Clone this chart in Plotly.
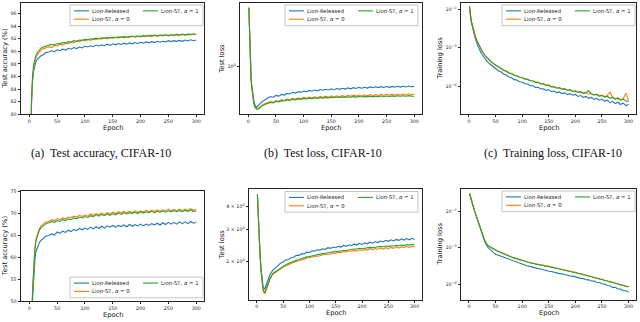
import plotly.graph_objects as go

EPOCHS = [1, 2, 3, 4, 5, 6, 8, 10, 12, 15, 18, 21, 25, 30] + list(range(35, 305, 5))

SERIES = ["Lion-Released", "Lion-ST, <i>α</i> = 0", "Lion-ST, <i>α</i> = 1"]
CAPTIONS = ["(a)  Test accuracy, CIFAR-10", "(b)  Test loss, CIFAR-10", "(c)  Training loss, CIFAR-10"]
X_TICKS = [0, 50, 100, 150, 200, 250, 300]
ACC10_TICKS = [80, 82, 84, 86, 88, 90, 92, 94, 96]
ACC100_TICKS = [50, 55, 60, 65, 70, 75]
LOSS10_TICKS = [1]
LOSS10_TEXT = ["10<sup>0</sup>"]
TRAIN_TICKS = [1e-2, 1e-3, 1e-4]
TRAIN_TEXT = ["10<sup>−2</sup>", "10<sup>−3</sup>", "10<sup>−4</sup>"]
LOSS100_TICKS = [2, 3, 4]
LOSS100_TEXT = ["2 × 10<sup>0</sup>", "3 × 10<sup>0</sup>", "4 × 10<sup>0</sup>"]

# (a) test accuracy, CIFAR-10
acc10_released = [45, 68, 77.5, 81.8, 84.0, 85.5, 87.0, 87.9, 88.4, 88.8, 89.1, 89.3, 89.5, 89.8,
                  89.9, 90.1, 89.95, 90.25, 90.1, 90.35, 90.2, 90.5, 90.35, 90.6, 90.45, 90.7, 90.55, 90.85,
                  90.7, 90.9, 90.75, 91.0, 90.85, 91.05, 90.9, 91.15, 90.95, 91.2, 91.05, 91.25, 91.1, 91.3,
                  91.15, 91.35, 91.2, 91.4, 91.25, 91.45, 91.3, 91.5, 91.35, 91.55, 91.4, 91.6, 91.45, 91.6,
                  91.5, 91.7, 91.55, 91.7, 91.6, 91.75, 91.6, 91.8, 91.65, 91.85, 91.7, 91.8]
acc10_st0 = [45, 68, 78, 82.3, 84.6, 86.0, 87.6, 88.5, 89.0, 89.5, 89.9, 90.2, 90.4, 90.6,
             90.75, 90.6, 90.95, 90.85, 91.15, 91.0, 91.3, 91.2, 91.5, 91.35, 91.65, 91.5, 91.8, 91.65,
             91.9, 91.75, 92.0, 91.85, 92.05, 91.95, 92.15, 92.0, 92.2, 92.05, 92.25, 92.1, 92.3, 92.15,
             92.35, 92.2, 92.4, 92.25, 92.4, 92.3, 92.45, 92.35, 92.5, 92.35, 92.55, 92.4, 92.55, 92.45,
             92.6, 92.45, 92.6, 92.5, 92.65, 92.5, 92.7, 92.55, 92.7, 92.6, 92.75, 92.65]
acc10_st1 = [46, 69, 78.5, 82.8, 85.0, 86.4, 88.0, 88.9, 89.4, 89.9, 90.3, 90.5, 90.7, 90.9,
             91.0, 91.1, 91.05, 91.25, 91.2, 91.4, 91.35, 91.55, 91.5, 91.7, 91.6, 91.8, 91.75, 91.9,
             91.85, 92.0, 91.95, 92.1, 92.0, 92.15, 92.1, 92.2, 92.15, 92.25, 92.2, 92.3, 92.25, 92.35,
             92.3, 92.4, 92.35, 92.4, 92.45, 92.4, 92.5, 92.45, 92.55, 92.5, 92.6, 92.5, 92.6, 92.55,
             92.65, 92.55, 92.65, 92.6, 92.7, 92.6, 92.75, 92.65, 92.75, 92.7, 92.8, 92.7]

# (b) test loss, CIFAR-10
loss10_released = [3.7, 2.2, 1.4, 1.0, 0.8, 0.68, 0.54, 0.47, 0.43, 0.405, 0.42, 0.44, 0.46, 0.48,
                   0.500, 0.515, 0.508, 0.528, 0.520, 0.540, 0.532, 0.552, 0.545, 0.565, 0.556, 0.574, 0.565, 0.582,
                   0.572, 0.590, 0.580, 0.596, 0.585, 0.602, 0.592, 0.606, 0.596, 0.612, 0.600, 0.615, 0.605, 0.620,
                   0.608, 0.624, 0.612, 0.628, 0.616, 0.632, 0.620, 0.634, 0.622, 0.638, 0.626, 0.640, 0.628, 0.642,
                   0.630, 0.644, 0.632, 0.645, 0.634, 0.648, 0.636, 0.648, 0.638, 0.650, 0.640, 0.646]
loss10_st0 = [3.7, 2.1, 1.35, 0.97, 0.77, 0.65, 0.51, 0.445, 0.41, 0.39, 0.395, 0.41, 0.425, 0.44,
              0.448, 0.460, 0.454, 0.472, 0.464, 0.480, 0.472, 0.488, 0.480, 0.494, 0.485, 0.500, 0.490, 0.505,
              0.495, 0.509, 0.499, 0.513, 0.502, 0.516, 0.505, 0.519, 0.508, 0.522, 0.510, 0.524, 0.513, 0.527,
              0.515, 0.529, 0.518, 0.531, 0.520, 0.533, 0.521, 0.535, 0.523, 0.537, 0.525, 0.539, 0.527, 0.540,
              0.528, 0.542, 0.530, 0.543, 0.531, 0.545, 0.533, 0.546, 0.534, 0.547, 0.536, 0.544]
loss10_st1 = [3.75, 2.1, 1.34, 0.96, 0.76, 0.64, 0.505, 0.44, 0.405, 0.388, 0.39, 0.403, 0.418, 0.432,
              0.442, 0.452, 0.448, 0.463, 0.458, 0.470, 0.466, 0.478, 0.472, 0.484, 0.479, 0.489, 0.484, 0.494,
              0.488, 0.497, 0.492, 0.500, 0.495, 0.503, 0.497, 0.505, 0.500, 0.507, 0.502, 0.509, 0.504, 0.511,
              0.506, 0.513, 0.507, 0.514, 0.509, 0.516, 0.510, 0.517, 0.511, 0.519, 0.512, 0.520, 0.514, 0.521,
              0.515, 0.522, 0.516, 0.523, 0.517, 0.524, 0.518, 0.525, 0.519, 0.526, 0.520, 0.518]

# (c) training loss, CIFAR-10
train10_released = [0.0115, 0.0078, 0.0060, 0.0049, 0.0042, 0.0036, 0.0027, 0.0021, 0.0017, 0.00128, 0.00100, 0.00082, 0.00065, 0.00051,
                    4.3e-4, 3.75e-4, 3.25e-4, 2.95e-4, 2.55e-4, 2.4e-4, 2.1e-4, 1.98e-4, 1.76e-4, 1.68e-4, 1.5e-4, 1.46e-4, 1.32e-4, 1.3e-4,
                    1.17e-4, 1.15e-4, 1.04e-4, 1.04e-4, 9.4e-5, 9.5e-5, 8.6e-5, 8.7e-5, 7.9e-5, 8.2e-5, 7.4e-5, 7.6e-5, 6.9e-5, 7.2e-5,
                    6.5e-5, 6.8e-5, 6.1e-5, 6.5e-5, 5.9e-5, 6.2e-5, 5.5e-5, 5.8e-5, 5.2e-5, 5.5e-5, 4.9e-5, 5.2e-5, 4.6e-5, 4.9e-5,
                    4.4e-5, 4.7e-5, 4.1e-5, 4.4e-5, 3.8e-5, 4.1e-5, 3.6e-5, 3.9e-5, 3.4e-5, 3.7e-5, 3.2e-5, 3.4e-5]
train10_st0 = [0.0118, 0.0081, 0.0063, 0.0052, 0.0045, 0.0039, 0.0029, 0.0023, 0.0019, 0.00148, 0.00119, 0.00099, 0.00079, 0.00063,
               5.2e-4, 4.55e-4, 3.95e-4, 3.55e-4, 3.15e-4, 2.9e-4, 2.6e-4, 2.45e-4, 2.2e-4, 2.12e-4, 1.93e-4, 1.86e-4, 1.7e-4, 1.68e-4,
               1.54e-4, 1.55e-4, 1.42e-4, 1.4e-4, 1.28e-4, 1.29e-4, 1.17e-4, 1.18e-4, 1.08e-4, 1.1e-4, 9.8e-5, 1.0e-4, 9.1e-5, 9.4e-5,
               8.5e-5, 8.8e-5, 8.0e-5, 8.3e-5, 7.5e-5, 7.8e-5, 7.1e-5, 7.4e-5, 6.7e-5, 7.0e-5, 6.3e-5, 6.6e-5, 6.0e-5, 6.3e-5,
               5.7e-5, 6.0e-5, 5.4e-5, 5.9e-5, 7.2e-5, 5.3e-5, 4.8e-5, 5.1e-5, 4.5e-5, 4.8e-5, 6.8e-5, 4.2e-5]
train10_st1 = [0.0120, 0.0082, 0.0064, 0.0053, 0.0046, 0.0040, 0.0030, 0.0024, 0.0020, 0.00152, 0.00122, 0.00101, 0.00081, 0.00064,
               5.3e-4, 4.6e-4, 4.0e-4, 3.6e-4, 3.2e-4, 2.95e-4, 2.65e-4, 2.5e-4, 2.25e-4, 2.15e-4, 1.95e-4, 1.88e-4, 1.72e-4, 1.7e-4,
               1.55e-4, 1.52e-4, 1.4e-4, 1.38e-4, 1.27e-4, 1.26e-4, 1.16e-4, 1.15e-4, 1.06e-4, 1.06e-4, 9.7e-5, 9.8e-5, 9.0e-5, 9.2e-5,
               8.4e-5, 8.6e-5, 7.9e-5, 8.1e-5, 7.4e-5, 7.6e-5, 7.0e-5, 7.2e-5, 6.6e-5, 6.9e-5, 7.8e-5, 6.4e-5, 6.0e-5, 6.2e-5,
               5.6e-5, 5.8e-5, 5.3e-5, 5.5e-5, 5.0e-5, 5.2e-5, 4.7e-5, 4.9e-5, 4.4e-5, 4.7e-5, 4.2e-5, 4.1e-5]

# (d) test accuracy, CIFAR-100
acc100_released = [10, 22, 33, 41, 47, 51, 56.5, 59.5, 61.3, 62.6, 63.3, 63.8, 64.3, 64.8,
                   64.9, 65.3, 65.0, 65.7, 65.4, 65.9, 65.6, 66.1, 65.8, 66.3, 66.0, 66.5, 66.2, 66.6,
                   66.3, 66.8, 66.4, 66.9, 66.5, 67.0, 66.6, 67.1, 66.8, 67.2, 66.8, 67.2, 66.9, 67.3,
                   66.9, 67.4, 67.0, 67.4, 67.1, 67.5, 67.1, 67.5, 67.2, 67.6, 67.3, 67.7, 67.3, 67.8,
                   67.4, 67.9, 67.5, 67.9, 67.5, 68.0, 67.6, 68.0, 67.6, 68.1, 67.7, 67.9]
acc100_st0 = [10, 23, 35, 43, 49, 53, 59, 62.2, 64.2, 65.6, 66.5, 67.1, 67.6, 68.0,
              68.1, 68.5, 68.3, 68.7, 68.5, 68.9, 68.7, 69.1, 68.9, 69.3, 69.1, 69.5, 69.2, 69.6,
              69.3, 69.8, 69.5, 69.9, 69.6, 70.0, 69.7, 70.1, 69.8, 70.2, 69.9, 70.3, 70.0, 70.4,
              70.1, 70.4, 70.1, 70.5, 70.2, 70.5, 70.3, 70.6, 70.3, 70.6, 70.4, 70.7, 70.4, 70.7,
              70.5, 70.9, 70.5, 70.8, 70.5, 70.9, 70.6, 70.9, 70.6, 71.0, 70.7, 70.8]
acc100_st1 = [10, 23, 35, 43, 48.8, 52.8, 58.7, 61.8, 63.8, 65.2, 66.1, 66.7, 67.2, 67.6,
              67.8, 68.1, 67.9, 68.3, 68.1, 68.5, 68.3, 68.7, 68.5, 68.9, 68.7, 69.1, 68.9, 69.2,
              69.0, 69.4, 69.2, 69.6, 69.3, 69.7, 69.4, 69.8, 69.5, 69.9, 69.6, 70.0, 69.7, 70.1,
              69.8, 70.1, 69.9, 70.2, 69.9, 70.3, 70.0, 70.3, 70.1, 70.4, 70.1, 70.4, 70.2, 70.5,
              70.2, 70.5, 70.3, 70.6, 70.3, 70.6, 70.3, 70.6, 70.4, 70.7, 70.4, 70.5]

# (e) test loss, CIFAR-100
loss100_released = [4.65, 3.9, 3.3, 2.85, 2.5, 2.2, 1.82, 1.58, 1.44, 1.42, 1.50, 1.59, 1.70, 1.79,
                    1.85, 1.89, 1.96, 1.99, 2.04, 2.05, 2.10, 2.11, 2.16, 2.16, 2.21, 2.20, 2.25, 2.24,
                    2.29, 2.28, 2.32, 2.31, 2.35, 2.33, 2.38, 2.36, 2.40, 2.38, 2.42, 2.40, 2.45, 2.42,
                    2.47, 2.44, 2.49, 2.46, 2.51, 2.48, 2.53, 2.50, 2.55, 2.52, 2.57, 2.54, 2.59, 2.56,
                    2.61, 2.58, 2.63, 2.59, 2.64, 2.61, 2.66, 2.62, 2.67, 2.63, 2.68, 2.64]
loss100_st0 = [4.65, 3.85, 3.25, 2.8, 2.45, 2.15, 1.76, 1.50, 1.37, 1.33, 1.39, 1.48, 1.60, 1.70,
               1.74, 1.79, 1.82, 1.87, 1.90, 1.93, 1.96, 1.98, 2.01, 2.02, 2.05, 2.06, 2.09, 2.10,
               2.12, 2.13, 2.15, 2.15, 2.18, 2.18, 2.20, 2.20, 2.23, 2.22, 2.25, 2.24, 2.27, 2.26,
               2.29, 2.27, 2.30, 2.28, 2.32, 2.30, 2.33, 2.31, 2.35, 2.32, 2.36, 2.33, 2.37, 2.34,
               2.38, 2.35, 2.39, 2.36, 2.40, 2.37, 2.41, 2.38, 2.42, 2.38, 2.42, 2.40]
loss100_st1 = [4.65, 3.87, 3.27, 2.82, 2.47, 2.17, 1.78, 1.52, 1.39, 1.36, 1.42, 1.51, 1.62, 1.72,
               1.76, 1.80, 1.84, 1.89, 1.92, 1.95, 1.98, 2.00, 2.03, 2.05, 2.08, 2.09, 2.12, 2.13,
               2.15, 2.16, 2.18, 2.19, 2.21, 2.22, 2.24, 2.24, 2.26, 2.26, 2.28, 2.28, 2.30, 2.30,
               2.32, 2.32, 2.34, 2.34, 2.36, 2.35, 2.37, 2.37, 2.39, 2.38, 2.40, 2.40, 2.42, 2.41,
               2.43, 2.42, 2.44, 2.43, 2.45, 2.44, 2.46, 2.45, 2.47, 2.46, 2.48, 2.47]

# (f) training loss, CIFAR-100
train100_released = [0.031, 0.027, 0.024, 0.021, 0.0185, 0.0165, 0.0135, 0.0108, 0.0088, 0.0065, 0.0048, 0.0035, 0.0023, 0.00145,
                     1.05e-3, 8.7e-4, 7.6e-4, 6.7e-4, 6.3e-4, 5.9e-4, 5.5e-4, 5.15e-4, 4.8e-4, 4.5e-4, 4.2e-4, 3.95e-4, 3.7e-4, 3.5e-4,
                     3.38e-4, 3.18e-4, 3.1e-4, 2.92e-4, 2.85e-4, 2.68e-4, 2.62e-4, 2.46e-4, 2.41e-4, 2.28e-4, 2.25e-4, 2.12e-4, 2.08e-4, 1.96e-4,
                     1.93e-4, 1.82e-4, 1.8e-4, 1.69e-4, 1.67e-4, 1.58e-4, 1.55e-4, 1.45e-4, 1.43e-4, 1.33e-4, 1.32e-4, 1.23e-4, 1.22e-4, 1.13e-4,
                     1.12e-4, 1.03e-4, 1.02e-4, 9.2e-5, 9.1e-5, 8.2e-5, 8.2e-5, 7.4e-5, 7.4e-5, 6.6e-5, 6.6e-5, 6.0e-5]
train100_st0 = [0.031, 0.027, 0.024, 0.021, 0.0186, 0.0166, 0.0136, 0.0109, 0.0089, 0.0066, 0.0049, 0.0036, 0.0024, 0.00155,
                1.17e-3, 1.03e-3, 9.3e-4, 8.7e-4, 7.9e-4, 7.4e-4, 6.8e-4, 6.45e-4, 5.9e-4, 5.65e-4, 5.2e-4, 5.05e-4, 4.65e-4, 4.55e-4,
                4.25e-4, 4.15e-4, 3.85e-4, 3.8e-4, 3.55e-4, 3.5e-4, 3.3e-4, 3.3e-4, 3.1e-4, 3.1e-4, 2.9e-4, 2.9e-4, 2.7e-4, 2.7e-4,
                2.5e-4, 2.5e-4, 2.3e-4, 2.3e-4, 2.15e-4, 2.15e-4, 2.0e-4, 1.97e-4, 1.82e-4, 1.8e-4, 1.66e-4, 1.66e-4, 1.52e-4, 1.5e-4,
                1.38e-4, 1.37e-4, 1.26e-4, 1.25e-4, 1.14e-4, 1.14e-4, 1.03e-4, 1.03e-4, 9.3e-5, 9.3e-5, 8.6e-5, 8.5e-5]
train100_st1 = [0.031, 0.027, 0.024, 0.021, 0.0185, 0.0165, 0.0135, 0.0108, 0.0088, 0.0065, 0.0048, 0.0035, 0.0023, 0.0015,
                1.17e-3, 1.04e-3, 9.4e-4, 8.7e-4, 8.0e-4, 7.4e-4, 6.9e-4, 6.4e-4, 6.0e-4, 5.6e-4, 5.3e-4, 5.0e-4, 4.7e-4, 4.5e-4,
                4.3e-4, 4.1e-4, 3.9e-4, 3.75e-4, 3.6e-4, 3.45e-4, 3.35e-4, 3.25e-4, 3.15e-4, 3.05e-4, 2.95e-4, 2.85e-4, 2.75e-4, 2.65e-4,
                2.55e-4, 2.45e-4, 2.35e-4, 2.25e-4, 2.18e-4, 2.1e-4, 2.02e-4, 1.93e-4, 1.85e-4, 1.77e-4, 1.69e-4, 1.61e-4, 1.54e-4, 1.47e-4,
                1.4e-4, 1.34e-4, 1.28e-4, 1.22e-4, 1.16e-4, 1.11e-4, 1.05e-4, 1.0e-4, 9.5e-5, 9.1e-5, 8.8e-5, 8.5e-5]

W, H = 640, 322
COLORS = ["#1f77b4", "#ff7f0e", "#2ca02c"]
FRAME = "#222222"


def px_x(a, b):
    return [a / W, b / W]


def px_y(top, bottom):
    return [1 - bottom / H, 1 - top / H]


# one entry per panel: data, frame in pixels, y axis setup, legend box, y-title x position
panels = [
    dict(data=[acc10_released, acc10_st0, acc10_st1], box=(21, 204, 1, 114), title="Test accuracy (%)",
         ytype="linear", yrange=[80, 97.7], ticks=ACC10_TICKS, text=None, legend=(203, 3), tx=5),
    dict(data=[loss10_released, loss10_st0, loss10_st1], box=(240, 422, 1, 114), title="Test loss",
         ytype="log", yrange=[-0.459, 0.616], ticks=LOSS10_TICKS, text=LOSS10_TEXT, legend=(418, 3), tx=222),
    dict(data=[train10_released, train10_st0, train10_st1], box=(461, 636, 1, 114), title="Training loss",
         ytype="log", yrange=[-4.72, -1.84], ticks=TRAIN_TICKS, text=TRAIN_TEXT, legend=(635, 3), tx=440),
    dict(data=[acc100_released, acc100_st0, acc100_st1], box=(21, 204, 192, 304), title="Test accuracy (%)",
         ytype="linear", yrange=[50, 75], ticks=ACC100_TICKS, text=None, legend=(203, 279.5), tx=5),
    dict(data=[loss100_released, loss100_st0, loss100_st1], box=(249, 422, 190, 302.5), title="Test loss",
         ytype="log", yrange=[0.092, 0.697], ticks=LOSS100_TICKS, text=LOSS100_TEXT, legend=(418, 192.5), tx=222),
    dict(data=[train100_released, train100_st0, train100_st1], box=(461, 636, 190, 302.5), title="Training loss",
         ytype="log", yrange=[-4.427, -1.387], ticks=TRAIN_TICKS, text=TRAIN_TEXT, legend=(635, 192), tx=440),
]

fig = go.Figure()
shapes = []
annotations = []
tick_font = dict(family="DejaVu Sans", size=4.8, color="#222")
title_font = dict(family="DejaVu Sans", size=6.7, color="#111")
legend_font = dict(family="DejaVu Sans", size=5.3, color="#222")

for i, p in enumerate(panels):
    n = "" if i == 0 else str(i + 1)
    for k, ys in enumerate(p["data"]):
        fig.add_trace(go.Scatter(x=EPOCHS, y=ys, mode="lines", name=SERIES[k],
                                 line=dict(color=COLORS[k], width=1.1),
                                 xaxis="x" + n, yaxis="y" + n, showlegend=False))
    x0, x1, y0, y1 = p["box"]
    axis_common = dict(showline=True, mirror=True, linecolor=FRAME, linewidth=0.8,
                       ticks="outside", tickwidth=0.6, tickcolor=FRAME,
                       tickfont=tick_font, showgrid=False, zeroline=False)
    fig.update_layout(**{
        "xaxis" + n: dict(domain=px_x(x0, x1), range=[-15, 314], anchor="y" + n, ticklen=2,
                          tickmode="array", tickvals=X_TICKS, **axis_common),
        "yaxis" + n: dict(domain=px_y(y0, y1), type=p["ytype"], range=p["yrange"], anchor="x" + n,
                          ticklen=2.5, tickmode="array", tickvals=p["ticks"], ticktext=p["text"],
                          **axis_common),
    })

    # axis titles placed like matplotlib's labels
    annotations.append(dict(text="Epoch", xref="paper", yref="paper", x=(x0 + x1) / 2 / W,
                            y=1 - min(y1 + 13.5, 317.5) / H, xanchor="center", yanchor="middle",
                            showarrow=False, borderpad=0, font=title_font))
    annotations.append(dict(text=p["title"], xref="paper", yref="paper", x=p["tx"] / W,
                            y=1 - (y0 + y1) / 2 / H, xanchor="center", yanchor="middle",
                            textangle=-90, showarrow=False, borderpad=0, font=title_font))

    # legend box drawn like matplotlib's two-column legend
    rx, ty = p["legend"]
    lx = rx - 133
    shapes.append(dict(type="rect", xref="paper", yref="paper",
                       x0=lx / W, x1=rx / W, y0=1 - (ty + 21) / H, y1=1 - ty / H,
                       line=dict(color="#c4c4c4", width=1), fillcolor="rgba(255,255,255,0.85)",
                       layer="above"))
    slots = [(lx + 4, ty + 6), (lx + 4, ty + 14.5), (lx + 73, ty + 6)]
    for k, (sx, sy) in enumerate(slots):
        shapes.append(dict(type="line", xref="paper", yref="paper",
                           x0=sx / W, x1=(sx + 15) / W, y0=1 - sy / H, y1=1 - sy / H,
                           line=dict(color=COLORS[k], width=1.1), layer="above"))
        annotations.append(dict(text=SERIES[k], xref="paper", yref="paper",
                                x=(sx + 17) / W, y=1 - sy / H, xanchor="left", yanchor="middle",
                                showarrow=False, borderpad=0, font=legend_font))

for cx, cap in zip([101, 323, 553], CAPTIONS):
    annotations.append(dict(text=cap, xref="paper", yref="paper", x=cx / W, y=1 - 153 / H,
                            xanchor="center", yanchor="middle", showarrow=False,
                            font=dict(family="Liberation Serif", size=12, color="#111")))

fig.update_layout(width=W, height=H, margin=dict(l=0, r=0, t=0, b=0),
                  paper_bgcolor="white", plot_bgcolor="white",
                  shapes=shapes, annotations=annotations, showlegend=False)

# drop the browser's default 8px body margin so the figure fills the window
fig.write_html("out.html", config={"displayModeBar": False},
               post_script="document.body.style.margin = '0';")
